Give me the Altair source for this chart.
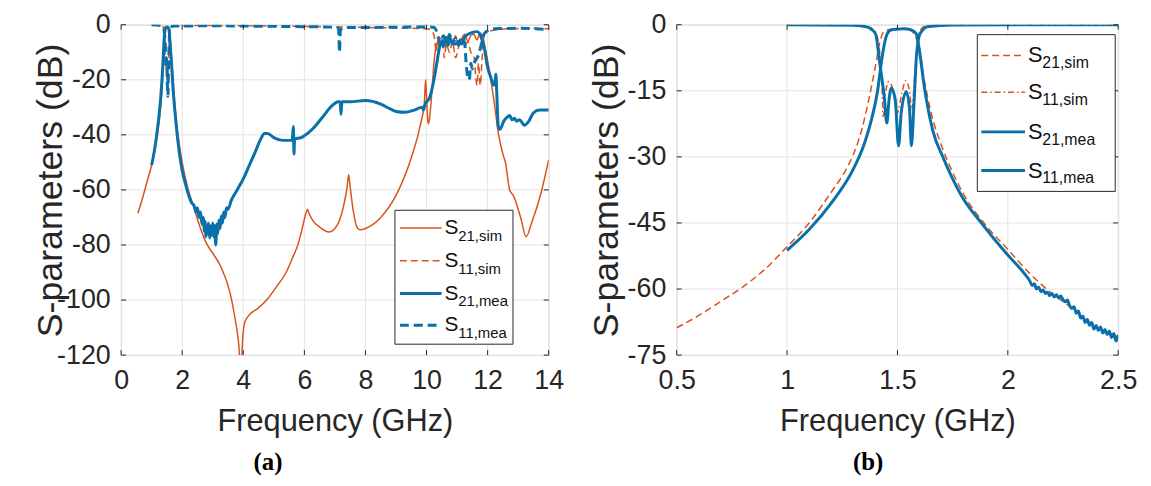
import altair as alt
import pandas as pd

ORANGE = "#D95319"
BLUE = "#0A70AA"
AXC = "#262626"
GRID = "#e3e3e3"
FONT = "Liberation Sans"

# ---------------- tick values ----------------
a_xticks = [0, 2, 4, 6, 8, 10, 12, 14]
a_yticks = [0, -20, -40, -60, -80, -100, -120]
b_xticks = [0.5, 1, 1.5, 2, 2.5]
b_yticks = [0, -15, -30, -45, -60, -75]

# ---------------- legend / captions ----------------
legend_main = ["S", "S", "S", "S"]
legend_sub = ["21,sim", "11,sim", "21,mea", "11,mea"]
captions = ["(a)", "(b)"]
x_title = "Frequency (GHz)"
y_title = "S-parameters (dB)"

# ---------------- panel (a) data: (GHz, dB) ----------------
a_s21_sim = [
    (0.55, -68.5), (0.7, -63), (0.85, -57), (1.0, -51), (1.1, -46), (1.2, -39), (1.3, -29),
    (1.36, -19), (1.4, -11), (1.43, -5), (1.46, -2), (1.5, -1.2), (1.54, -1.2), (1.57, -1.5),
    (1.6, -4), (1.64, -10), (1.7, -20), (1.8, -34), (1.9, -43), (2.0, -50), (2.2, -60),
    (2.4, -67), (2.6, -74), (2.8, -79.5), (3.0, -83), (3.27, -88), (3.57, -97.5), (3.75, -108),
    (3.82, -113), (3.87, -119), (3.9, -128), (3.93, -125), (3.98, -114), (4.05, -108),
    (4.23, -105), (4.48, -103), (4.8, -99.5), (5.1, -95), (5.4, -90), (5.6, -85), (5.8, -79.5),
    (5.95, -73), (6.05, -68.5), (6.1, -67), (6.15, -68.5), (6.3, -71.5), (6.5, -73.5),
    (6.8, -75.3), (7.1, -72.3), (7.3, -65), (7.4, -59), (7.45, -54.5), (7.5, -59), (7.6, -67.5),
    (7.75, -74), (7.85, -74.5), (8.0, -74), (8.5, -70), (9.0, -62), (9.5, -48.3), (9.8, -36.3),
    (9.93, -28), (9.97, -20), (10.0, -26), (10.03, -33), (10.06, -36), (10.1, -34), (10.15, -28),
    (10.26, -12), (10.35, -6.5), (10.45, -5), (10.55, -6), (10.65, -8), (10.75, -4.5),
    (10.85, -6.5), (10.95, -4), (11.05, -7.5), (11.15, -5), (11.25, -3.5), (11.35, -6),
    (11.45, -4), (11.55, -3.5), (11.65, -5.5), (11.75, -3), (11.85, -4.5), (11.92, -8.5),
    (12.0, -13), (12.2, -27), (12.36, -40), (12.5, -47), (12.6, -51), (12.66, -56), (12.72, -60),
    (12.84, -62), (13.08, -70), (13.26, -77), (13.44, -72), (13.74, -61.5), (14.0, -49),
]
a_s11_sim = [
    (1.0, -0.1), (1.2, -0.2), (1.35, -0.5), (1.4, -1.5), (1.43, -5), (1.45, -12), (1.47, -16),
    (1.48, -13), (1.5, -20), (1.52, -15), (1.54, -22), (1.56, -14), (1.58, -5), (1.62, -1.2),
    (1.7, -0.4), (2.5, -0.3), (4.0, -0.4), (6.0, -0.6), (8.0, -1.0), (9.0, -1.2), (10.0, -1.5),
    (10.15, -2), (10.25, -4), (10.32, -10), (10.36, -6), (10.45, -9), (10.52, -5), (10.58, -12),
    (10.65, -7), (10.75, -10), (10.85, -6), (10.95, -12), (11.05, -8), (11.15, -5), (11.25, -8),
    (11.35, -6), (11.45, -10), (11.56, -12), (11.62, -20), (11.66, -22), (11.7, -14),
    (11.76, -22), (11.82, -12), (11.88, -4), (12.0, -2.5), (12.2, -2), (12.6, -1.5),
    (13.5, -1.3), (14.0, -1.5),
]
a_s21_mea = [
    (1.0, -51), (1.1, -45), (1.2, -37), (1.3, -26), (1.36, -16), (1.4, -7), (1.43, -2),
    (1.46, -1), (1.5, -0.8), (1.54, -1), (1.57, -2), (1.6, -6), (1.65, -14), (1.7, -23),
    (1.8, -36), (1.9, -46), (2.0, -53), (2.1, -57.5), (2.2, -61.5), (2.3, -64.5), (2.4, -66),
    (2.45, -68), (2.5, -66.5), (2.55, -70), (2.6, -68), (2.65, -72.5), (2.7, -70), (2.72, -75),
    (2.75, -71.5), (2.78, -77), (2.8, -73), (2.83, -76), (2.86, -72), (2.9, -77.5), (2.93, -73),
    (2.96, -76.5), (3.0, -72), (3.03, -77), (3.06, -73), (3.1, -80), (3.13, -72.5), (3.16, -76),
    (3.2, -71), (3.24, -74), (3.28, -69.5), (3.32, -72), (3.36, -68), (3.4, -70), (3.45, -66.5),
    (3.5, -67), (3.6, -64), (3.8, -60), (4.0, -56), (4.2, -51), (4.4, -46), (4.55, -42),
    (4.7, -39.5), (4.8, -39.5), (5.0, -41), (5.3, -42), (5.6, -42), (5.64, -37), (5.66, -47),
    (5.68, -41.5), (5.9, -41), (6.1, -39.5), (6.3, -37.5), (6.6, -33.5), (6.9, -29.5),
    (7.1, -28), (7.17, -28), (7.2, -32.5), (7.23, -28), (7.5, -28), (8.0, -27.5), (8.5, -28.8),
    (8.8, -30.5), (9.0, -31.5), (9.3, -31.8), (9.6, -31), (9.85, -30), (9.9, -31), (9.95, -29),
    (10.1, -26.5), (10.26, -19), (10.35, -13), (10.42, -8.5), (10.5, -6), (10.55, -8),
    (10.62, -4.5), (10.7, -7.5), (10.78, -5), (10.85, -6.5), (10.95, -7), (11.05, -6),
    (11.15, -7), (11.25, -4.5), (11.35, -3.5), (11.5, -2.8), (11.65, -2.5), (11.75, -3.5),
    (11.8, -5), (11.9, -9), (11.98, -14.5), (12.1, -19), (12.2, -22), (12.25, -20),
    (12.27, -18), (12.3, -25), (12.35, -37), (12.4, -38), (12.53, -35), (12.65, -33.5),
    (12.72, -33), (12.8, -34.5), (12.88, -34), (12.95, -35), (13.05, -34.5), (13.2, -36.5),
    (13.35, -35), (13.5, -32), (13.7, -31), (14.0, -31),
]
a_s11_mea = [
    (1.0, 0), (1.3, -0.3), (1.38, -1), (1.42, -3), (1.45, -8), (1.47, -15), (1.49, -12),
    (1.51, -20), (1.53, -26), (1.55, -17), (1.57, -8), (1.6, -2), (1.7, -0.5), (3.0, -0.4),
    (5.0, -0.6), (7.0, -0.9), (7.12, -1.2), (7.15, -10), (7.18, -2), (7.3, -1), (8.0, -1),
    (9.0, -0.9), (10.0, -0.8), (10.25, -1), (10.35, -3), (10.45, -7), (10.55, -4), (10.65, -6.5),
    (10.75, -3.5), (10.85, -7), (10.95, -5), (11.05, -7.5), (11.15, -4.5), (11.25, -7),
    (11.3, -14.5), (11.35, -19), (11.4, -20), (11.45, -14), (11.5, -16), (11.58, -13.5),
    (11.7, -11), (11.82, -6), (11.9, -3), (12.2, -1.5), (13.0, -1.3), (14.0, -1.8),
]

# ---------------- panel (b) data: (GHz, dB) ----------------
b_s21_sim = [
    (0.5, -68.8), (0.6, -66), (0.7, -62.8), (0.8, -59.5), (0.9, -55.5), (1.0, -50.4),
    (1.1, -45), (1.2, -38), (1.26, -33.5), (1.3, -29.5), (1.34, -23.5), (1.37, -17), (1.4, -9.5),
    (1.42, -4), (1.44, -1.5), (1.47, -1.1), (1.5, -1), (1.53, -1), (1.56, -1.3), (1.58, -2.5),
    (1.6, -5.5), (1.62, -12), (1.65, -19.5), (1.7, -27.5), (1.75, -33.5), (1.8, -38.5),
    (1.9, -45.5), (2.0, -51), (2.1, -56.5), (2.2, -61), (2.3, -64.7), (2.37, -68),
]
b_s11_sim = [
    (1.0, 0), (1.2, -0.05), (1.35, -0.3), (1.39, -1), (1.41, -3), (1.42, -6.5), (1.43, -14),
    (1.435, -20.8), (1.446, -15.5), (1.46, -12.9), (1.48, -14.8), (1.5, -20), (1.52, -15.5),
    (1.537, -12.7), (1.554, -14.8), (1.565, -19.3), (1.58, -10.3), (1.595, -2.4), (1.62, -0.4),
    (1.7, -0.05), (2.5, 0),
]
b_s21_mea = [
    (1.0, -51.2), (1.1, -46.5), (1.2, -40.5), (1.3, -32.8), (1.35, -27), (1.38, -22),
    (1.41, -15), (1.43, -7.5), (1.45, -2.5), (1.47, -1.2), (1.5, -1), (1.53, -0.9), (1.56, -1.1),
    (1.585, -2), (1.6, -6), (1.62, -13.5), (1.66, -24), (1.71, -30.5), (1.75, -35), (1.79, -38.8),
    (1.88, -45), (2.0, -52.3), (2.05, -55), (2.08, -56.8), (2.1, -58.2), (2.11, -59.2),
    (2.12, -58.8), (2.13, -60), (2.14, -59.6), (2.15, -60.6), (2.16, -60.2), (2.17, -61),
    (2.18, -60.7), (2.19, -61.5), (2.2, -61), (2.21, -61.8), (2.22, -61.3), (2.23, -62),
    (2.24, -61.6), (2.25, -62.4), (2.26, -62.9), (2.27, -62.5), (2.28, -63.8), (2.29, -64.4),
    (2.3, -64), (2.31, -65.5), (2.32, -65), (2.33, -66.6), (2.34, -66.2), (2.35, -67.6),
    (2.36, -66.9), (2.37, -68.2), (2.38, -67.6), (2.39, -69.1), (2.4, -68.3), (2.41, -69.4),
    (2.42, -68.6), (2.43, -70), (2.44, -69.2), (2.45, -70.3), (2.46, -69.6), (2.47, -71),
    (2.48, -70.1), (2.49, -71.8), (2.5, -70.4),
]
b_s11_mea = [
    (1.0, 0), (1.3, -0.1), (1.36, -0.5), (1.4, -2), (1.42, -8.8), (1.44, -16.3), (1.452, -22.3),
    (1.462, -17), (1.472, -14.4), (1.49, -17), (1.505, -27.5), (1.517, -20), (1.54, -15.2),
    (1.555, -19.3), (1.563, -27.5), (1.575, -17.8), (1.587, -6.5), (1.603, -2), (1.64, -0.4),
    (1.75, -0.05), (2.5, 0),
]


def frame(pairs):
    return pd.DataFrame(pairs, columns=["f", "db"])


def panel(W, H, xdom, ydom, xticks, yticks, series, leg, cap):
    xs = alt.Scale(domain=xdom, nice=False, zero=False)
    ys = alt.Scale(domain=ydom, nice=False, zero=False)
    xaxis = alt.Axis(
        values=xticks, grid=False, ticks=False, tickSize=0, domain=False,
        labelExpr="toString(datum.value)", labelFont=FONT, labelFontSize=27,
        labelColor=AXC, labelPadding=26, labelBaseline="middle", labelFlush=False,
        labelOverlap=False, title=x_title, titleFont=FONT, titleFontSize=31,
        titleFontWeight="normal", titleColor=AXC, titleY=67, titleBaseline="middle",
    )
    yaxis = alt.Axis(
        values=yticks, grid=False, ticks=False, tickSize=0, domain=False,
        labelExpr="toString(datum.value)", labelFont=FONT, labelFontSize=27,
        labelColor=AXC, labelPadding=11, labelBaseline="middle", labelFlush=False,
        labelOverlap=False, title=y_title, titleFont=FONT, titleFontSize=36,
        titleFontWeight="normal", titleColor=AXC, titleX=-71, titleY=H / 2,
        titleAngle=270, titleAlign="center", titleBaseline="middle",
    )
    xt = pd.DataFrame({"f": xticks})
    yt = pd.DataFrame({"db": yticks})
    X = lambda: alt.X("f:Q", scale=xs, axis=xaxis)
    Y = lambda: alt.Y("db:Q", scale=ys, axis=yaxis)
    layers = [
        alt.Chart(xt).mark_rule(color=GRID, strokeWidth=1).encode(x=X()),
        alt.Chart(yt).mark_rule(color=GRID, strokeWidth=1).encode(y=Y()),
    ]
    for pairs, color, width, dash in series:
        kw = dict(color=color, strokeWidth=width, clip=True, interpolate="monotone")
        if dash:
            kw["strokeDash"] = dash
        layers.append(alt.Chart(frame(pairs)).mark_line(**kw).encode(x=X(), y=Y()))
    tk = dict(color=AXC, strokeWidth=1)
    layers += [
        alt.Chart(xt).mark_rule(**tk).encode(x=X(), y=alt.value(H), y2=alt.value(H - 5)),
        alt.Chart(xt).mark_rule(**tk).encode(x=X(), y=alt.value(0), y2=alt.value(5)),
        alt.Chart(yt).mark_rule(**tk).encode(y=Y(), x=alt.value(0), x2=alt.value(5)),
        alt.Chart(yt).mark_rule(**tk).encode(y=Y(), x=alt.value(W), x2=alt.value(W - 5)),
    ]
    # legend
    one = pd.DataFrame({"k": [0]})
    bx0, bx1, by0, by1, rows, lx0, lx1, tx, fs_main, fs_sub = leg
    layers.append(alt.Chart(one).mark_rect(fill="white", stroke=AXC, strokeWidth=1).encode(
        x=alt.value(bx0), x2=alt.value(bx1), y=alt.value(by0), y2=alt.value(by1)))
    for i, (ry, (pairs, color, width, dash)) in enumerate(zip(rows, series)):
        kw = dict(color=color, strokeWidth=width)
        if dash:
            kw["strokeDash"] = dash
        layers.append(alt.Chart(one).mark_rule(**kw).encode(
            x=alt.value(lx0), x2=alt.value(lx1), y=alt.value(ry)))
        layers.append(alt.Chart(one).mark_text(
            text=legend_main[i], font=FONT, fontSize=fs_main, color="#111111",
            align="left", baseline="middle").encode(x=alt.value(tx), y=alt.value(ry)))
        layers.append(alt.Chart(one).mark_text(
            text=legend_sub[i], font=FONT, fontSize=fs_sub, color="#111111",
            align="left", baseline="middle").encode(
            x=alt.value(tx + fs_main * 0.66), y=alt.value(ry + 8)))
    cx, cy = cap[1], cap[2]
    layers.append(alt.Chart(one).mark_text(
        text=cap[0], font="Liberation Serif", fontSize=25, fontWeight="bold",
        color="#000000", align="center", baseline="middle").encode(
        x=alt.value(cx), y=alt.value(cy)))
    return alt.layer(*layers).properties(width=W, height=H)


HA = 333
WA = 431
WB = 445

series_a = [
    (a_s21_sim, ORANGE, 1.5, None),
    (a_s11_sim, ORANGE, 1.5, [7, 4]),
    (a_s21_mea, BLUE, 3, None),
    (a_s11_mea, BLUE, 3, [9, 5]),
]
series_b = [
    (b_s21_sim, ORANGE, 1.5, [7, 4]),
    (b_s11_sim, ORANGE, 1.5, [6, 3, 1.5, 3]),
    (b_s21_mea, BLUE, 3, None),
    (b_s11_mea, BLUE, 3, None),
]

pa = panel(WA, HA, [0, 14], [-120, 0], a_xticks, a_yticks, series_a,
           (276, 395, 187, 322, [205, 238, 271, 303], 281, 323, 326, 21, 15),
           (captions[0], 148, HA + 108))
pb = panel(WB, HA, [0.5, 2.5], [-75, 0], b_xticks, b_yticks, series_b,
           (303, 442, 10, 168, [31, 68, 108, 147], 307, 351, 354, 22, 16),
           (captions[1], 193, HA + 108))

chart = alt.hconcat(pa, pb, spacing=129, bounds="flush").properties(
    padding={"left": 24, "top": 0, "right": 5, "bottom": 0}
).configure_view(stroke=AXC, strokeWidth=1).configure(background="white")

chart.save("out.html", embed_options={"renderer": "svg", "actions": False})
